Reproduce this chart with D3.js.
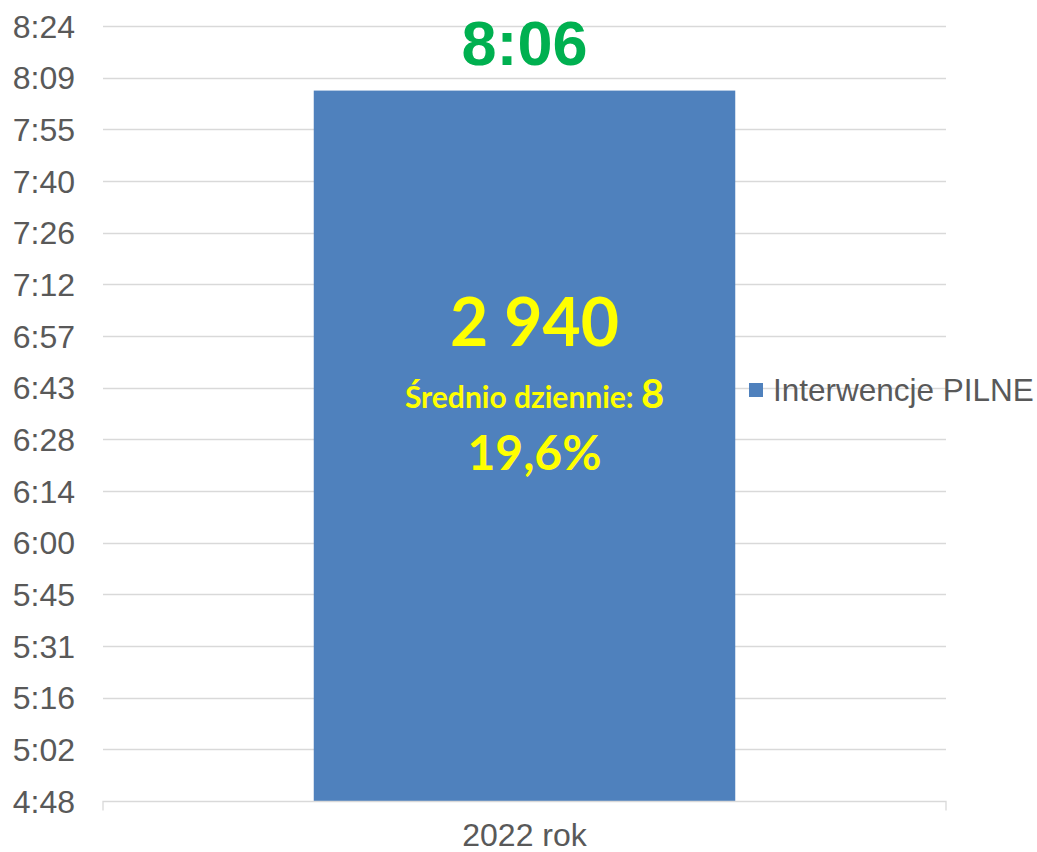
<!DOCTYPE html>
<html>
<head>
<meta charset="utf-8">
<script src="https://cdn.jsdelivr.net/npm/d3@7"></script>
<style>
  body { margin: 0; background: #fff; }
  svg { display: block; }
</style>
</head>
<body>
<div id="chart"></div>
<script>
// values in fractions of a day (Excel time)
var categories = ["2022 rok"];
var seriesName = "Interwencje PILNE";
var values = [0.3375];            // 8:06
var yTickValues = [0.20, 0.21, 0.22, 0.23, 0.24, 0.25, 0.26, 0.27,
                   0.28, 0.29, 0.30, 0.31, 0.32, 0.33, 0.34, 0.35];
var totalLabel = ["2 940"];
var dailyLabel = ["8"];
var shareLabel = ["19,6%"];

var width = 1037, height = 852;
var plot = {left: 103, right: 946, top: 26, bottom: 801};

var svg = d3.select('#chart')
    .append('svg')
    .attr('width', width)
    .attr('height', height);

var x = d3.scaleBand()
    .domain(categories)
    .range([plot.left, plot.right])
    .paddingInner(0)
    .paddingOuter(0.5);

var y = d3.scaleLinear()
    .domain([0.20, 0.35])
    .range([plot.bottom, plot.top]);

// Excel h:mm shows truncated minutes
function fmtTime(d) {
  var mins = Math.floor(d * 24 * 60 + 1e-6);
  var h = Math.floor(mins / 60), m = mins % 60;
  return h + ':' + (m < 10 ? '0' : '') + m;
}

// gridlines
svg.append('g')
    .selectAll('line')
    .data(yTickValues.slice(1))
    .enter().append('line')
    .attr('x1', plot.left)
    .attr('x2', plot.right)
    .attr('y1', function(d) { return Math.round(y(d)) + 0.5; })
    .attr('y2', function(d) { return Math.round(y(d)) + 0.5; })
    .attr('stroke', '#d9d9d9')
    .attr('stroke-width', 1.3);

// y labels
svg.append('g')
    .selectAll('text')
    .data(yTickValues)
    .enter().append('text')
    .attr('x', 75)
    .attr('y', function(d) { return y(d); })
    .attr('dy', '0.36em')
    .attr('text-anchor', 'end')
    .style('font-family', 'Liberation Sans, Arial, sans-serif')
    .style('font-size', '32px')
    .attr('fill', '#595959')
    .text(fmtTime);

// bar
svg.append('g')
    .selectAll('rect')
    .data(values)
    .enter().append('rect')
    .attr('x', function(d, i) { return x(categories[i]); })
    .attr('width', x.bandwidth())
    .attr('y', function(d) { return y(d); })
    .attr('height', function(d) { return plot.bottom - y(d); })
    .attr('fill', '#4f81bd');

// x axis line with end ticks
var xAxis = svg.append('g')
    .attr('transform', 'translate(0,' + (Math.round(plot.bottom) + 0.5) + ')')
    .call(d3.axisBottom(x).tickSize(0).tickPadding(22));
xAxis.select('.domain').remove();
xAxis.append('path')
    .attr('d', 'M' + plot.left + ',9V0H' + plot.right + 'V9')
    .attr('fill', 'none')
    .attr('stroke', '#d9d9d9')
    .attr('stroke-width', 1.3);
xAxis.selectAll('.tick text')
    .style('font-family', 'Liberation Sans, Arial, sans-serif')
    .style('font-size', '32px')
    .attr('fill', '#595959');

// value label above bar
svg.append('g')
    .selectAll('text')
    .data(values)
    .enter().append('text')
    .attr('x', function(d, i) { return x(categories[i]) + x.bandwidth() / 2; })
    .attr('y', function(d) { return y(d) - 26; })
    .attr('text-anchor', 'middle')
    .style('font-family', 'Liberation Sans, Arial, sans-serif')
    .style('font-weight', 'bold')
    .style('font-size', '63px')
    .attr('fill', '#00b050')
    .text(fmtTime);

// inner annotations
var cx = x(categories[0]) + x.bandwidth() / 2 + 10;
var inner = svg.append('g')
    .style('font-family', 'Lato, Calibri, sans-serif')
    .style('font-weight', 'bold')
    .attr('fill', '#ffff00')
    .attr('text-anchor', 'middle');

inner.append('text')
    .attr('x', cx).attr('y', 346)
    .style('font-size', '66px')
    .text(totalLabel[0]);

var mid = inner.append('text')
    .attr('x', cx).attr('y', 408);
mid.append('tspan')
    .style('font-size', '30px')
    .text('Średnio dziennie: ');
mid.append('tspan')
    .style('font-size', '40px')
    .text(dailyLabel[0]);

inner.append('text')
    .attr('x', cx).attr('y', 470)
    .style('font-size', '48px')
    .text(shareLabel[0]);

// legend
var legend = svg.append('g').attr('transform', 'translate(749,383)');
legend.append('rect')
    .attr('width', 14).attr('height', 14)
    .attr('fill', '#4f81bd');
legend.append('text')
    .attr('x', 24).attr('y', 7)
    .attr('dy', '0.36em')
    .style('font-family', 'Liberation Sans, Arial, sans-serif')
    .style('font-size', '31.5px')
    .attr('fill', '#595959')
    .text(seriesName);
</script>
</body>
</html>
